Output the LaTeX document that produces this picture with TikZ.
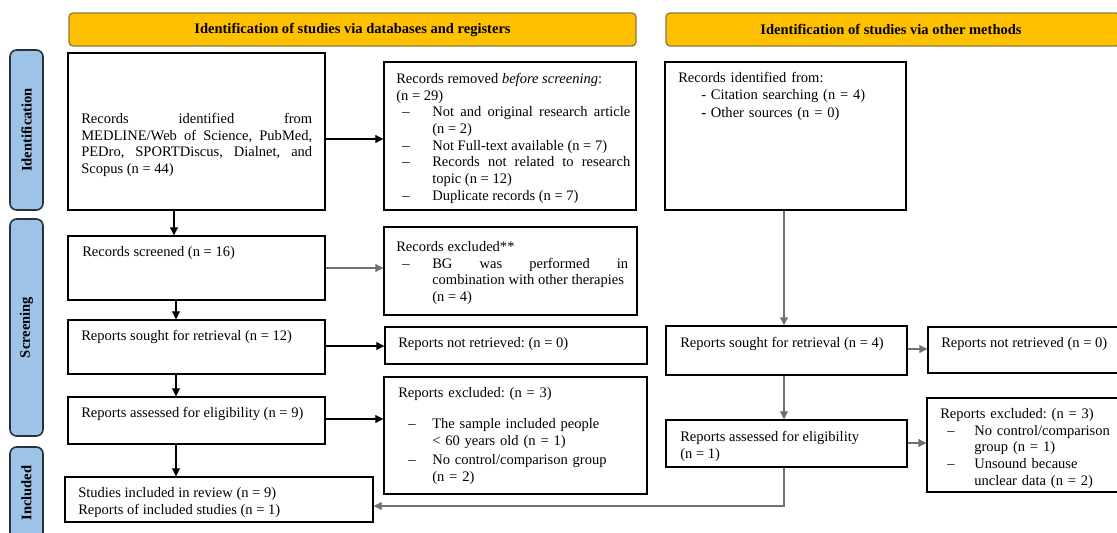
\documentclass[tikz,border=0pt]{standalone}
\usepackage{fontspec}
\setmainfont{Liberation Serif}
\usetikzlibrary{arrows.meta,fit}
\newdimen\px \px=0.75pt
\newcommand{\dashitem}[2]{\par\hangindent=#2\px\hangafter=1\noindent\hbox to #2\px{\hskip#1\px\textendash\hfil}\ignorespaces}
\newcommand{\nohyph}{\hyphenpenalty=10000\relax\exhyphenpenalty=10000\relax\frenchspacing}
\definecolor{hdrfill}{HTML}{FFC000}
\definecolor{hdrdraw}{HTML}{8C7A3C}
\definecolor{sidefill}{HTML}{9DC3E6}
\definecolor{sidedraw}{HTML}{27303C}
\definecolor{arrgray}{HTML}{707070}
\tikzset{
  box/.style={draw=black, line width=1.1pt, inner sep=0pt},
  hdr/.style={draw=hdrdraw, fill=hdrfill, line width=1pt, rounded corners=3pt, inner sep=0pt},
  hdrtext/.style={inner sep=0pt, font=\fontsize{10.9}{12.5}\selectfont\bfseries},
  side/.style={draw=sidedraw, fill=sidefill, line width=1.2pt, rounded corners=5pt, inner sep=0pt},
  sidelabel/.style={rotate=90, inner sep=0pt, font=\fontsize{10.9}{12.5}\selectfont\bfseries},
  txt/.style={inner sep=0pt, anchor=north west, font=\fontsize{10.9}{12.5}\selectfont\nohyph, align=left},
  jtxt/.style={txt, align=justify},
  arr/.style={draw=black, line width=0.8pt, -{Triangle[length=6pt,width=6pt]}},
  garr/.style={arr, draw=arrgray},
}
\begin{document}
\begin{tikzpicture}[x=0.75pt, y=-0.75pt]
\useasboundingbox (0,0) rectangle (1117,532);
\clip (0,0) rectangle (1117,532);

% headers
\node[hdr, fit={(69,13) (636,46)}] (H1) {};
\node[hdrtext] (H1t) at (H1.center) {Identification of studies via databases and registers};
\node[hdr, fit={(666,13) (1120,46)}] (H2) {};
\node[hdrtext] (H2t) at (891,29.5) {Identification of studies via other methods};

% side phases
\node[side, fit={(10,50) (43,210)}] (S1) {};
\node[sidelabel] (S1t) at (S1.center) {Identification};
\node[side, fit={(10,219) (43,436)}] (S2) {};
\node[sidelabel] (S2t) at (S2.center) {Screening};
\node[side, fit={(10,447) (43,545)}] (S3) {};
\node[sidelabel] (S3t) at (26.5,493) {Included};

% boxes left column
\node[box, fit={(68,53) (325,210)}] (A) {};
\node[jtxt, text width=231\px] (At) at (81,113) {Records identified from\linebreak MEDLINE/Web of Science, PubMed,\linebreak PEDro, SPORTDiscus, Dialnet, and\linebreak Scopus (n = 44)};

\node[box, fit={(68,236) (325,300)}] (D) {};
\node[txt] (Dt) at (82,246) {Records screened (n = 16)};

\node[box, fit={(68,320) (325,374)}] (F) {};
\node[txt] (Ft) at (81,330) {Reports sought for retrieval (n = 12)};

\node[box, fit={(68,397) (325,444)}] (H) {};
\node[txt] (Ht) at (81,407) {Reports assessed for eligibility (n = 9)};

\node[box, fit={(65,477) (373,522)}] (J) {};
\node[txt] (Jt) at (78,487) {Studies included in review (n = 9)\\ Reports of included studies (n = 1)};

% boxes middle column
\node[box, fit={(384,62) (636,210)}] (B) {};
\node[jtxt, text width=234\px] (Bt) at (396,73) {Records removed \textit{before screening}:\newline (n = 29)
\dashitem{6}{36}Not and original research article\linebreak (n = 2)
\dashitem{6}{36}Not Full-text available (n = 7)
\dashitem{6}{36}Records not related to research\linebreak topic (n = 12)
\dashitem{6}{36}Duplicate records (n = 7)\par};

\node[box, fit={(384,227) (637,315)}] (E) {};
\node[jtxt, text width=232\px] (Et) at (396,241) {Records excluded**
\dashitem{6}{36}BG was performed in\linebreak combination with other therapies\newline (n = 4)\par};

\node[box, fit={(385,327) (647,364)}] (G) {};
\node[txt] (Gt) at (398,337) {Reports not retrieved: (n = 0)};

\node[box, fit={(384,377) (647,494)}] (I) {};
\node[txt, text width=240\px] (It) at (398,387) {Reports excluded: (n = 3)\par\vskip 11pt
\dashitem{10}{34}The sample included people\newline < 60 years old (n = 1)\par\vskip 2pt
\dashitem{10}{34}No control/comparison group\newline (n = 2)\par};

% boxes right side
\node[box, fit={(665,62) (906,210)}] (C) {};
\node[txt, text width=220\px] (Ct) at (678,72) {Records identified from:\par
\hspace*{23\px}- Citation searching (n = 4)\par\vskip 1.5pt
\hspace*{23\px}{\bfseries -} Other sources (n = 0)\par};

\node[box, fit={(666,326) (907,375)}] (K) {};
\node[txt] (Kt) at (680,337) {Reports sought for retrieval (n = 4)};

\node[box, fit={(928,327) (1125,373)}] (L) {};
\node[txt] (Lt) at (941,337) {Reports not retrieved (n = 0)};

\node[box, fit={(666,420) (907,467)}] (M) {};
\node[txt] (Mt) at (680,431) {Reports assessed for eligibility\\ (n = 1)};

\node[box, fit={(927,398) (1125,492)}] (N) {};
\node[txt, text width=180\px] (Nt) at (940,408) {Reports excluded: (n = 3)
\dashitem{7}{34}No control/comparison\newline group (n = 1)
\dashitem{7}{34}Unsound because\newline unclear data (n = 2)\par};

% helper coordinates
\coordinate (xL1) at (174,0);
\coordinate (xL2) at (176,0);
\coordinate (xR) at (784,0);
\coordinate (yAB) at (0,139);
\coordinate (yDE) at (0,268);
\coordinate (yFG) at (0,346);
\coordinate (yHI) at (0,419);
\coordinate (yKL) at (0,349);
\coordinate (yMN) at (0,443);
\coordinate (mj) at (784,506);

% connectors left column
\draw[arr] (A.south -| xL1) -- (D.north -| xL1);
\draw[arr] (D.south -| xL2) -- (F.north -| xL2);
\draw[arr] (F.south -| xL2) -- (H.north -| xL2);
\draw[arr] (H.south -| xL2) -- (J.north -| xL2);

\draw[arr] (A.east |- yAB) -- (B.west |- yAB);
\draw[garr] (D.east |- yDE) -- (E.west |- yDE);
\draw[arr] (F.east |- yFG) -- (G.west |- yFG);
\draw[arr] (H.east |- yHI) -- (I.west |- yHI);

% connectors right column
\draw[garr] (C.south -| xR) -- (K.north -| xR);
\draw[garr] (K.south -| xR) -- (M.north -| xR);
\draw[garr] (K.east |- yKL) -- (L.west |- yKL);
\draw[garr] (M.east |- yMN) -- (N.west |- yMN);
\draw[garr] (M.south -| mj) -- (mj) -- (J.east |- mj);
\end{tikzpicture}
\end{document}
